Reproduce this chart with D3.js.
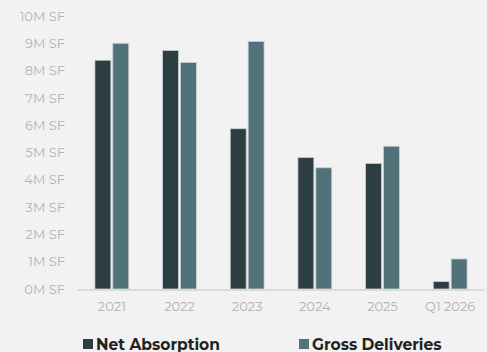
<!DOCTYPE html>
<html><head><meta charset="utf-8">
<script src="https://cdn.jsdelivr.net/npm/d3@7"></script>
<style>
html,body{margin:0;padding:0;background:#f2f2f2;}
svg{display:block;}
</style></head>
<body>
<svg id="chart" width="487" height="352"></svg>
<script>
const categories = ["2021","2022","2023","2024","2025","Q1 2026"];
const netAbsorption = [8.38, 8.74, 5.87, 4.82, 4.60, 0.27];
const grossDeliveries = [9.00, 8.30, 9.07, 4.44, 5.23, 1.10];
const seriesNames = ["Net Absorption","Gross Deliveries"];
const yTicks = [0,1,2,3,4,5,6,7,8,9,10];
const colors = ["#2c3e42","#52727a"];

const svg = d3.select("#chart");
const font = "Montserrat, 'Open Sans', 'DejaVu Sans', sans-serif";
const x = d3.scaleBand().domain(categories).range([78, 484]).paddingInner(0.5).paddingOuter(0.25);
const x1 = d3.scaleBand().domain(seriesNames).range([0, x.bandwidth()]).paddingInner(0.11);
const y = d3.scaleLinear().domain([0,10]).range([289, 16]);

// y axis labels
const yAxis = svg.append("g").attr("transform","translate(68,0)")
  .call(d3.axisLeft(y).tickValues(yTicks).tickFormat(d => d + "M SF").tickSize(0).tickPadding(3));
yAxis.select(".domain").remove();
yAxis.selectAll("text").attr("font-family", font).attr("font-size", 13).attr("fill", "#b3b3b3");

// bars
const series = [netAbsorption, grossDeliveries];
const g = svg.append("g");
series.forEach((vals, si) => {
  g.selectAll(".b"+si).data(categories).enter().append("rect")
    .attr("x", d => x(d) + x1(seriesNames[si]))
    .attr("y", (d,i) => y(vals[i]))
    .attr("width", x1.bandwidth())
    .attr("height", (d,i) => y(0) - y(vals[i]))
    .attr("fill", colors[si])
    .attr("stroke", "#c9d0d2").attr("stroke-width", 0.8);
});

// x axis
const xAxis = svg.append("g").attr("transform","translate(0,290)")
  .call(d3.axisBottom(x).tickSize(0).tickPadding(12));
xAxis.select(".domain").attr("stroke","#dadada").attr("stroke-width",2)
  .attr("d", "M78,0H484");
xAxis.selectAll("text").attr("font-family", font).attr("font-size", 13).attr("fill", "#b3b3b3");

// legend
const legX = [83, 299];
seriesNames.forEach((n, i) => {
  svg.append("rect").attr("x", legX[i]).attr("y", 339).attr("width", 10).attr("height", 10).attr("fill", colors[i]);
  svg.append("text").attr("x", legX[i] + 13).attr("y", 349.5)
    .attr("font-family", font).attr("font-weight", "bold").attr("font-size", 15.5)
    .attr("fill", "#222").text(n);
});
</script>
</body></html>
